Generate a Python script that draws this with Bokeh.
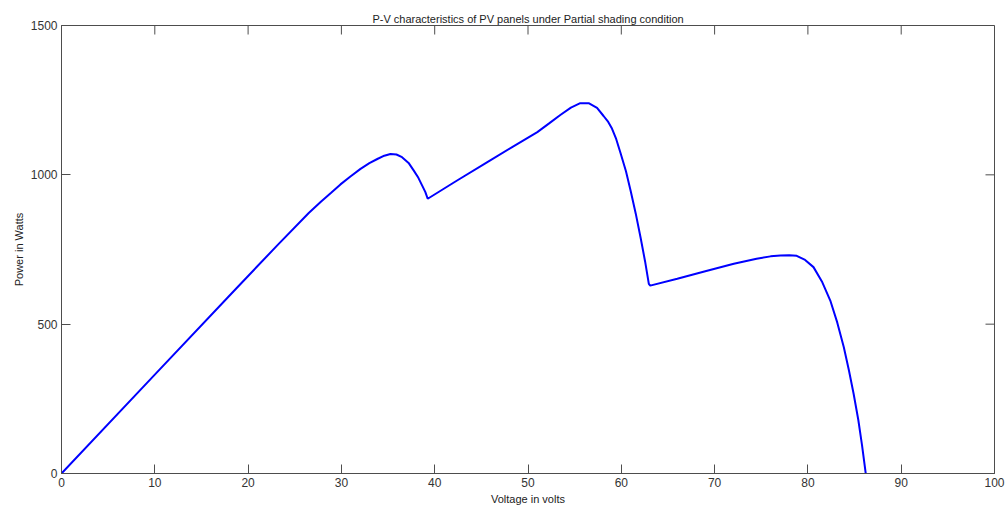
from bokeh.plotting import figure
from bokeh.models import LinearAxis, Range1d, FixedTicker
from bokeh.embed import file_html
from bokeh.resources import INLINE

# Data
voltage = [0, 10, 18.5, 23.1, 26.5, 27.8, 28.9, 29.9, 31.0, 32.05, 33.0, 33.85, 34.6, 35.26, 35.9, 36.5, 37.2,
           37.76, 38.25, 38.66, 39.0, 39.25,
           42.4, 45.6, 48.3, 51.0, 52.3, 53.5, 54.6, 55.6, 56.5, 57.4, 58.1, 58.6, 59.0, 59.45, 59.9,
           60.5, 61.0, 61.55, 62.06, 62.55, 62.95, 63.1,
           66.0, 69.0, 72.06, 74.5, 76.0, 77.06, 78.0, 78.8, 79.7, 80.6, 81.5, 82.4, 83.15, 83.85, 84.4,
           84.9, 85.4, 85.8, 86.2]
power = [0, 331, 612, 763, 872, 910, 940, 968, 995, 1020, 1039, 1053, 1064, 1070, 1068, 1059, 1040,
         1014, 990, 964, 942, 920,
         981, 1042, 1093, 1143, 1173, 1201, 1225, 1240, 1240, 1224, 1197, 1177, 1155, 1120, 1075,
         1012, 947, 870, 791, 710, 635, 629,
         652, 677, 702, 719, 727, 730, 731, 729, 715, 691, 643, 579, 505, 423, 345,
         267, 180, 95, 0]

x_ticks = [0, 10, 20, 30, 40, 50, 60, 70, 80, 90, 100]
y_ticks = [0, 500, 1000, 1500]

title_text = "P-V characteristics of PV panels under Partial shading condition"
x_label = "Voltage in volts"
y_label = "Power in Watts"

FONT = "Liberation Sans"
AXC = "#4d4d4d"

p = figure(width=1008, height=509, output_backend="svg", toolbar_location=None,
           x_range=Range1d(0, 100), y_range=Range1d(0, 1500),
           min_border_left=61, min_border_right=14, min_border_top=25, min_border_bottom=36,
           x_axis_location=None, y_axis_location=None)
p.title.text = title_text
p.title.align = "center"
p.title.text_font = FONT
p.title.text_font_size = "11px"
p.title.text_font_style = "normal"
p.title.text_color = "#222222"
p.title.standoff = 2

p.xgrid.visible = False
p.ygrid.visible = False
p.outline_line_color = AXC
p.outline_line_width = 1
p.background_fill_color = "white"
p.border_fill_color = "white"

def style(ax):
    ax.axis_line_color = AXC
    ax.major_tick_line_color = AXC
    ax.major_tick_in = 9
    ax.major_tick_out = 0
    ax.minor_tick_line_color = None
    ax.major_label_text_font = FONT
    ax.major_label_text_font_size = "12px"
    ax.major_label_text_color = "#333333"
    ax.major_label_standoff = 4
    ax.axis_label_text_font = FONT
    ax.axis_label_text_font_size = "11px"
    ax.axis_label_text_font_style = "normal"
    ax.axis_label_text_color = "#222222"
    ax.axis_label_standoff = 3

xb = LinearAxis(ticker=FixedTicker(ticks=x_ticks), axis_label=x_label)
style(xb)
p.add_layout(xb, "below")
yl = LinearAxis(ticker=FixedTicker(ticks=y_ticks), axis_label=y_label)
style(yl)
p.add_layout(yl, "left")

# Inward tick marks on the top and right edges of the box (MATLAB style),
# placed through the plot's data scales
tick_px = 9
x_tick_len = tick_px / 448 * 1500
y_tick_len = tick_px / 933 * 100
p.segment(x0=x_ticks, y0=[1500] * len(x_ticks), x1=x_ticks, y1=[1500 - x_tick_len] * len(x_ticks),
          line_color=AXC, line_width=1)
p.segment(x0=[100] * len(y_ticks), y0=y_ticks, x1=[100 - y_tick_len] * len(y_ticks), y1=y_ticks,
          line_color=AXC, line_width=1)

p.line(voltage, power, line_color="#0000ff", line_width=2)

open("out.html", "w").write(file_html(p, INLINE))
